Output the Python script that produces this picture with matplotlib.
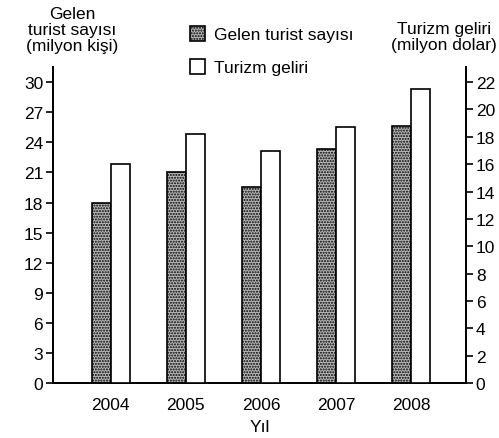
import matplotlib.pyplot as plt
import numpy as np

plt.rcParams['font.family'] = ['Liberation Sans', 'DejaVu Sans']
plt.rcParams['hatch.color'] = '#262626'
plt.rcParams['hatch.linewidth'] = 1.0

years = ['2004', '2005', '2006', '2007', '2008']
turist = [18, 21, 19.5, 23.3, 25.6]      # milyon kişi
gelir = [16, 18.2, 17, 18.7, 21.5]       # milyon dolar
left_ticks = [0, 3, 6, 9, 12, 15, 18, 21, 24, 27, 30]
right_ticks = [0, 2, 4, 6, 8, 10, 12, 14, 16, 18, 20, 22]

fig = plt.figure(figsize=(4.99, 4.39), dpi=100)
ax = fig.add_axes([0.106, 0.125, 0.828, 0.72])
ax2 = ax.twinx()

x = np.arange(len(years))
w = 0.25
ax.bar(x - w / 2, turist, w, facecolor='#b8b8b8', edgecolor='black',
       hatch='......', linewidth=1.2, label='Gelen turist sayısı', zorder=3)
ax2.bar(x + w / 2, gelir, w, facecolor='white', edgecolor='black',
        linewidth=1.2, label='Turizm geliri', zorder=3)

ax.set_xlim(-0.77, 4.73)
ax.set_ylim(0, 31.5)
ax2.set_ylim(0, 31.5 * 22 / 30)
ax.set_xticks(x)
ax.set_xticklabels(years, fontsize=12.5)
ax.set_yticks(left_ticks)
ax2.set_yticks(right_ticks)
ax.tick_params(axis='x', length=0, pad=10)
ax.tick_params(axis='y', length=5, width=1.2, labelsize=12.5, pad=2)
ax2.tick_params(axis='y', length=5, width=1.2, labelsize=12.5, pad=2)

for a in (ax, ax2):
    a.spines['top'].set_visible(False)
    for s in ('left', 'right', 'bottom'):
        a.spines[s].set_linewidth(1.3)

ax.set_xlabel('Yıl', fontsize=12.5, labelpad=5)

fig.text(0.145, 0.985, 'Gelen\nturist sayısı\n(milyon kişi)', ha='center', va='top',
         fontsize=12.5, linespacing=1.08)
fig.text(0.89, 0.95, 'Turizm geliri\n(milyon dolar)', ha='center', va='top',
         fontsize=12.5, linespacing=1.08)

h1, l1 = ax.get_legend_handles_labels()
h2, l2 = ax2.get_legend_handles_labels()
fig.legend(h1 + h2, l1 + l2, loc='upper left', bbox_to_anchor=(0.35, 0.975),
           frameon=False, fontsize=12.5, handlelength=0.85, handleheight=0.95,
           handletextpad=0.5, labelspacing=0.95)

fig.savefig('out.png', dpi=100)
